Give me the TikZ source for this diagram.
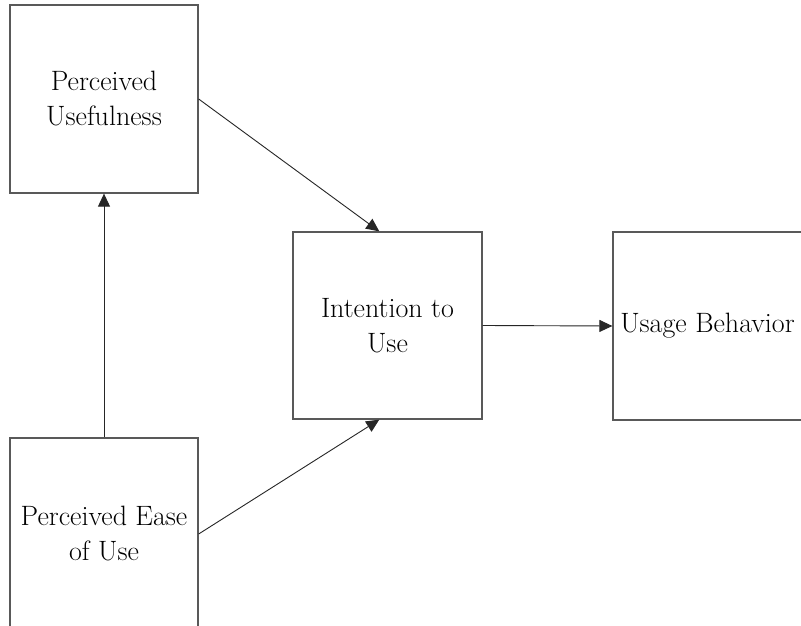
\documentclass[tikz,border=0pt]{standalone}
\usepackage{amsmath}
\usepackage{tikz}
\usetikzlibrary{arrows.meta}

\begin{document}
\begin{tikzpicture}[x=1pt,y=1pt,
        construct/.style={draw=black!65, line width=1.3pt, fill=white, align=center,
            inner sep=0pt, font=\fontsize{28}{35}\selectfont},
        link/.style={draw=black!85, line width=0.9pt, -{Triangle[length=13pt,width=12pt]}}]
        \useasboundingbox (0,0) rectangle (801,-626);
        \clip (0,0) rectangle (801,-626);
        \fill[white] (0,0) rectangle (801,-626);

        \node[construct, minimum width=188, minimum height=188] (pu) at (104,-99) {Perceived\\Usefulness};
        \node[construct, minimum width=189, minimum height=187] (itu) at (387.5,-325.5) {Intention to\\Use};
        \node[construct, minimum width=189, minimum height=188] (ub) at (707.5,-326) {Usage Behavior};
        \node[construct, minimum width=188, minimum height=192] (peu) at (104,-534) {Perceived Ease\\of Use};

        \draw[link] (peu.north) -- (pu.south);
        \draw[link] (pu.east) -- (itu.95);
        \draw[link] (peu.east) -- (itu.265);
        \draw[link] (itu.east) -- (ub.west);
    \end{tikzpicture}
\end{document}
